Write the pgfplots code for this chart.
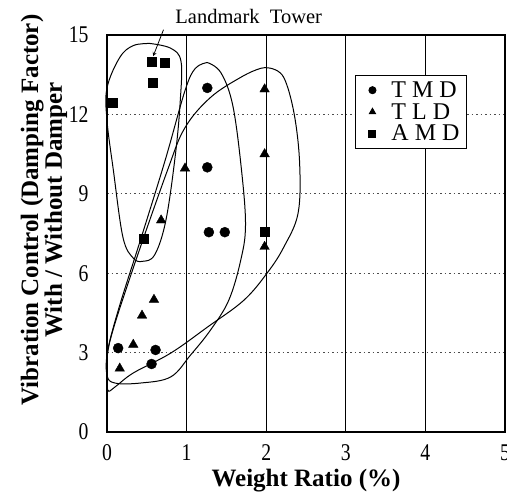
\documentclass[border=0pt]{standalone}
\usepackage{fontspec}
\setmainfont{Liberation Serif}
\usepackage{pgfplots}
\pgfplotsset{compat=1.18}

\begin{document}
\begin{tikzpicture}
\begin{axis}[
    width=398pt, height=397pt, scale only axis,
    xmin=0, xmax=5, ymin=0, ymax=15,
    xtick={0,1,2,3,4,5}, ytick={0,3,6,9,12,15},
    axis line style={line width=1.6pt},
    major tick length=0pt,
    /pgf/number format/assume math mode=true,
    tick label style={font=\fontsize{24}{24}\selectfont, xscale=0.82},
    xticklabel style={yshift=-9pt},
    yticklabel style={xshift=-19pt},
    xmajorgrids, ymajorgrids,
    x grid style={black, line width=0.8pt},
    y grid style={black!70, line width=0.6pt, dash pattern=on 1.5pt off 3pt},
    xlabel={Weight Ratio (\%)},
    xlabel style={font=\bfseries\fontsize{25}{25}\selectfont, at={(rel axis cs:0.5,0)}, anchor=center, yshift=-49pt},
    ylabel={Vibration Control (Damping Factor)\\With / Without Damper},
    ylabel style={font=\bfseries\fontsize{25}{22.5}\selectfont, align=center, at={(rel axis cs:0,0.559)}, anchor=center, yshift=63pt},
    legend style={at={(rel axis cs:0.623,0.899)}, anchor=north west, draw=black, line width=1pt,
        font=\fontsize{24}{24}\selectfont, cells={anchor=west}, inner xsep=5pt, inner ysep=4pt, row sep=0.5pt},
    legend image code/.code={
        \path[draw=none, fill=none] (0pt,-3pt) rectangle (29pt,3pt);
        \draw[#1, mark size=3.5pt] plot coordinates {(12pt,0pt)};
    },
    clip=false,
]
% envelopes
\addplot[black, line width=1pt, smooth, tension=0.6, forget plot] coordinates {
 (0.54,14.68) (0.80,14.5) (0.93,14.0) (0.92,12.5) (0.86,10.5) (0.74,8.0) (0.60,6.7) (0.45,6.45) (0.33,6.57)
 (0.20,7.36) (0.08,9.89) (0.0,11.77) (0.0,13.0) (0.16,14.15) (0.33,14.6) (0.54,14.68)};
\addplot[black, line width=1pt, smooth, tension=0.6, forget plot] coordinates {
 (1.26,13.96) (1.43,13.58) (1.58,12.34) (1.69,9.89) (1.74,7.81) (1.68,6.49) (1.53,4.98)
 (1.30,3.85) (1.05,2.91) (0.80,2.08) (0.42,1.85) (0.10,1.85) (0.0,2.15) (0.01,3.09)
 (0.16,4.79) (0.42,7.25) (0.73,10.26) (0.98,12.9) (1.11,13.74) (1.26,13.96)};
\addplot[black, line width=1pt, smooth, tension=0.6, forget plot] coordinates {
 (2.06,13.74) (2.22,13.40) (2.35,12.04) (2.42,10.15) (2.40,8.26) (2.22,6.98) (2.02,6.04)
 (1.72,4.98) (1.26,3.96) (0.80,2.98) (0.33,2.23) (0.10,1.70) (0.01,1.58) (0.0,2.34)
 (0.04,3.47) (0.32,6.11) (0.76,9.89) (0.98,11.5) (1.30,12.64) (1.68,13.40) (1.93,13.74) (2.06,13.74)};
% data
\addplot[only marks, mark=*, mark size=5pt, black] coordinates {
 (1.26,13.0) (1.26,10.0) (1.28,7.55) (1.48,7.55) (0.14,3.17) (0.61,3.1) (0.56,2.57)};
\addlegendentry{T M D}
\addplot[only marks, mark=triangle*, mark size=5.5pt, black] coordinates {
 (0.98,9.96) (0.68,8.0) (1.98,12.95) (1.98,10.5) (1.98,7.0) (0.59,5.0) (0.44,4.4) (0.33,3.3) (0.16,2.4)};
\addlegendentry{T L D}
\addplot[only marks, mark=square*, mark size=4.5pt, black] coordinates {
 (0.56,14.0) (0.72,13.96) (0.57,13.2) (0.07,12.45) (0.46,7.3) (1.98,7.55)};
\addlegendentry{A M D}
\node[font=\fontsize{20.5}{20.5}\selectfont] at (axis cs:1.78,15.7) {Landmark~~Tower};
\draw[-stealth, line width=0.8pt] (axis cs:0.71,15.2) -- (axis cs:0.58,14.2);
\coordinate (ll) at (rel axis cs:0,0);
\coordinate (ur) at (rel axis cs:1,1);
\end{axis}
\pgfresetboundingbox
\path ([shift={(-107pt,-63pt)}]ll) rectangle ([shift={(2pt,35pt)}]ur);
\end{tikzpicture}
\end{document}
